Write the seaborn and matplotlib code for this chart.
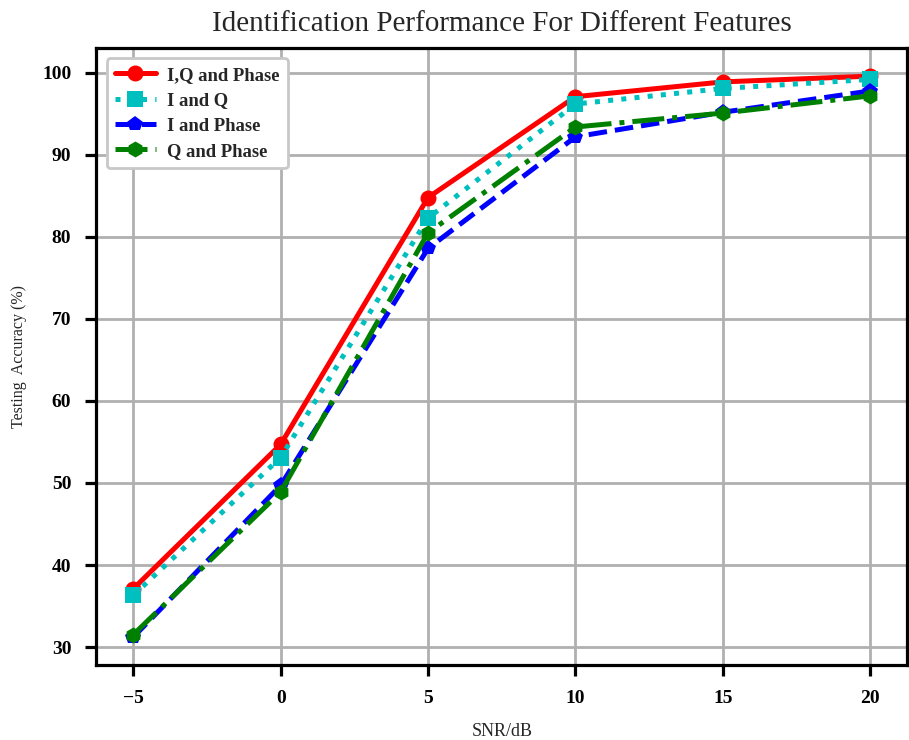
import numpy as np
import pandas as pd
import matplotlib
matplotlib.use('Agg')
import matplotlib.pyplot as plt
import seaborn as sns

# values
snr = [-5, 0, 5, 10, 15, 20]
acc_iq_phase = [37.1, 54.7, 84.8, 97.1, 98.9, 99.6]
acc_iq = [36.3, 53.1, 82.3, 96.2, 98.1, 99.2]
acc_i_phase = [31.2, 49.7, 78.6, 92.2, 95.2, 97.8]
acc_q_phase = [31.5, 48.9, 80.5, 93.4, 95.1, 97.2]

labels = ['I,Q and Phase', 'I and Q', 'I and Phase', 'Q and Phase']

sns.set_style('white')
plt.rcParams['font.family'] = ['Liberation Serif', 'DejaVu Serif']
plt.rcParams['axes.unicode_minus'] = True

fig, ax = plt.subplots(figsize=(9.09, 7.4), dpi=100)

series = [
    (acc_iq_phase, 'red', 'o', '-'),
    (acc_iq, 'c', 's', ':'),
    (acc_i_phase, 'blue', 'p', '--'),
    (acc_q_phase, 'green', 'h', '-.'),
]
for (vals, col, mk, ls), lab in zip(series, labels):
    sns.lineplot(x=snr, y=vals, ax=ax, color=col, marker=mk, linestyle=ls,
                 linewidth=3.6, markersize=11.5, markeredgewidth=0,
                 label=lab)

ax.grid(True, color='#b0b0b0', linewidth=2)
ax.set_axisbelow(True)
for sp in ax.spines.values():
    sp.set_linewidth(2.3)
    sp.set_color('black')
ax.tick_params(bottom=True, left=True, direction='out', length=8, width=2.3,
               pad=10, labelsize=14, colors='black')
for t in ax.get_xticklabels() + ax.get_yticklabels():
    t.set_fontweight('bold')

ax.set_xlabel('SNR/dB', fontsize=13, labelpad=11)
ax.set_ylabel('Testing  Accuracy (%)', fontsize=11.5, labelpad=11)
ax.set_title('Identification Performance For Different Features', fontsize=21, pad=12)

leg = ax.legend(loc='upper left', prop={'weight': 'bold', 'size': 13.4},
                frameon=True, fancybox=True, framealpha=1, borderpad=0.45,
                handlelength=2.2, handletextpad=0.6, labelspacing=0.45,
                borderaxespad=0.55)
leg.get_frame().set_edgecolor('#c8c8c8')
leg.get_frame().set_linewidth(2)

fig.subplots_adjust(left=0.106, right=0.998, top=0.935, bottom=0.101)
fig.savefig('out.png', dpi=100)
